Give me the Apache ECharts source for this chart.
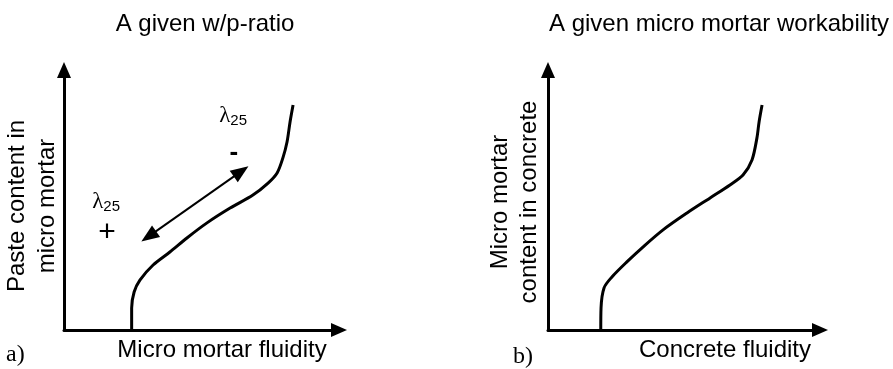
<!DOCTYPE html>
<html>
<head>
<meta charset="utf-8">
<script src="https://cdn.jsdelivr.net/npm/echarts@6/dist/echarts.min.js"></script>
<style>
html, body { margin: 0; padding: 0; background: #ffffff; }
#chart { width: 893px; height: 369px; }
</style>
</head>
<body>
<div id="chart"></div>
<script>
// Panel a: paste content in micro mortar against micro mortar fluidity (relative units, 0-100)
const curveA = [
  [24.6, 0], [24.6, 8.5], [25.5, 14.6], [27.6, 19.2], [32.4, 25.0], [38.5, 30.0],
  [44.7, 35.4], [52.0, 41.2], [60.4, 46.9], [68.7, 51.9], [74.2, 56.5], [77.5, 60.4],
  [79.6, 66.2], [81.1, 72.3], [82.2, 80.0], [83.3, 86.5]
];
// Panel b: micro mortar content in concrete against concrete fluidity (relative units, 0-100)
const curveB = [
  [19.4, 0], [19.5, 8.5], [20.6, 16.2], [23.5, 20.4], [29.0, 26.2], [34.9, 31.9],
  [42.3, 38.5], [51.1, 45.0], [59.6, 50.8], [66.9, 55.8], [71.7, 59.6], [75.0, 65.4],
  [76.8, 73.8], [77.6, 80.0], [78.7, 86.5]
];
// Double-headed arrow showing the direction of λ25 change
const lambdaArrow = [[30.8, 36.0], [64.4, 61.0]];
// λ25 tags and the sign under each one
const lambdaTags = [[61.5, 82.0], [15.3, 49.0]];
const signTags = [[61.8, 68.1, '-'], [15.6, 37.3, '+']];

const titlesText = ['A given w/p-ratio', 'A given micro mortar workability'];
const xNames = ['Micro mortar fluidity', 'Concrete fluidity'];
const yNames = ['Paste content in\nmicro mortar', 'Micro mortar\ncontent in concrete'];
const panelTags = ['a)', 'b)'];

const SANS = 'Liberation Sans, Arial, sans-serif';
const SERIF = 'Liberation Serif, Times New Roman, serif';
const INK = '#000000';

const grids = [
  { left: 64, top: 70, width: 275, height: 260 },
  { left: 548, top: 70, width: 272, height: 260 }
];

function makeX(i, shift) {
  return {
    type: 'value', gridIndex: i, min: 0, max: 100,
    axisLine: { show: true, onZero: false, symbol: ['none', 'triangle'], symbolSize: [14, 16],
      lineStyle: { color: INK, width: 3 } },
    axisTick: { show: false }, axisLabel: { show: false }, splitLine: { show: false },
    name: xNames[i], nameLocation: 'middle', nameGap: 8,
    nameTextStyle: { color: INK, fontFamily: SANS, fontSize: 24, padding: [0, 0, 0, shift] }
  };
}
function makeY(i, gap, lh, pad) {
  return {
    type: 'value', gridIndex: i, min: 0, max: 100,
    axisLine: { show: true, onZero: false, symbol: ['none', 'triangle'], symbolSize: [14, 16],
      lineStyle: { color: INK, width: 3 } },
    axisTick: { show: false }, axisLabel: { show: false }, splitLine: { show: false },
    name: yNames[i], nameLocation: 'middle', nameGap: gap, nameRotate: 90,
    nameTextStyle: { color: INK, fontFamily: SANS, fontSize: 24, lineHeight: lh, padding: [0, pad, 0, 0] }
  };
}

const chart = echarts.init(document.getElementById('chart'), null, { renderer: 'canvas' });

// Text-only markers: no visible symbol, fully opaque labels
const tagItem = { color: 'rgba(0,0,0,0)', opacity: 1 };

chart.setOption({
  animation: false,
  backgroundColor: '#ffffff',
  title: [
    { text: titlesText[0], left: 205, top: 12, textAlign: 'center', padding: 0,
      textStyle: { color: INK, fontFamily: SANS, fontSize: 24, fontWeight: 'normal' } },
    { text: titlesText[1], left: 719, top: 12, textAlign: 'center', padding: 0,
      textStyle: { color: INK, fontFamily: SANS, fontSize: 24, fontWeight: 'normal' } },
    { text: panelTags[0], left: 6, top: 343, padding: 0,
      textStyle: { color: INK, fontFamily: SERIF, fontSize: 24, fontWeight: 'normal' } },
    { text: panelTags[1], left: 513, top: 345, padding: 0,
      textStyle: { color: INK, fontFamily: SERIF, fontSize: 24, fontWeight: 'normal' } }
  ],
  grid: grids,
  xAxis: [makeX(0, 41), makeX(1, 82)],
  yAxis: [makeY(0, 2, 30, 12), makeY(1, 4, 29, 4)],
  series: [
    {
      type: 'line', xAxisIndex: 0, yAxisIndex: 0, data: curveA, smooth: 0.3,
      symbol: 'none', silent: true,
      lineStyle: { color: INK, width: 3 },
      markLine: {
        silent: true, symbol: ['triangle', 'triangle'], symbolSize: [14, 18],
        label: { show: false },
        lineStyle: { color: INK, width: 2, type: 'solid' },
        data: [[{ coord: lambdaArrow[0] }, { coord: lambdaArrow[1] }]]
      }
    },
    {
      type: 'line', xAxisIndex: 1, yAxisIndex: 1, data: curveB, smooth: 0.3,
      symbol: 'none', silent: true,
      lineStyle: { color: INK, width: 3 }
    },
    {
      type: 'scatter', xAxisIndex: 0, yAxisIndex: 0, data: lambdaTags, silent: true,
      symbolSize: 1, itemStyle: tagItem,
      label: {
        show: true, position: 'inside', color: INK, opacity: 1, textBorderWidth: 0,
        formatter: '{l|λ}{s|25}',
        rich: {
          l: { fontFamily: SERIF, fontSize: 23, color: INK, lineHeight: 24, verticalAlign: 'top', textBorderWidth: 0 },
          s: { fontFamily: SANS, fontSize: 15, color: INK, lineHeight: 15, verticalAlign: 'bottom', textBorderWidth: 0 }
        }
      }
    },
    {
      type: 'scatter', xAxisIndex: 0, yAxisIndex: 0, data: signTags, silent: true,
      symbolSize: 1, itemStyle: tagItem,
      label: {
        show: true, position: 'inside', color: INK, opacity: 1, textBorderWidth: 0,
        formatter: p => p.value[2] === '-' ? '{m|-}' : '{p|+}',
        rich: {
          m: { fontFamily: SANS, fontSize: 26, fontWeight: 'bold', color: INK, textBorderWidth: 0 },
          p: { fontFamily: SANS, fontSize: 30, color: INK, textBorderWidth: 0 }
        }
      }
    }
  ]
});
</script>
</body>
</html>
